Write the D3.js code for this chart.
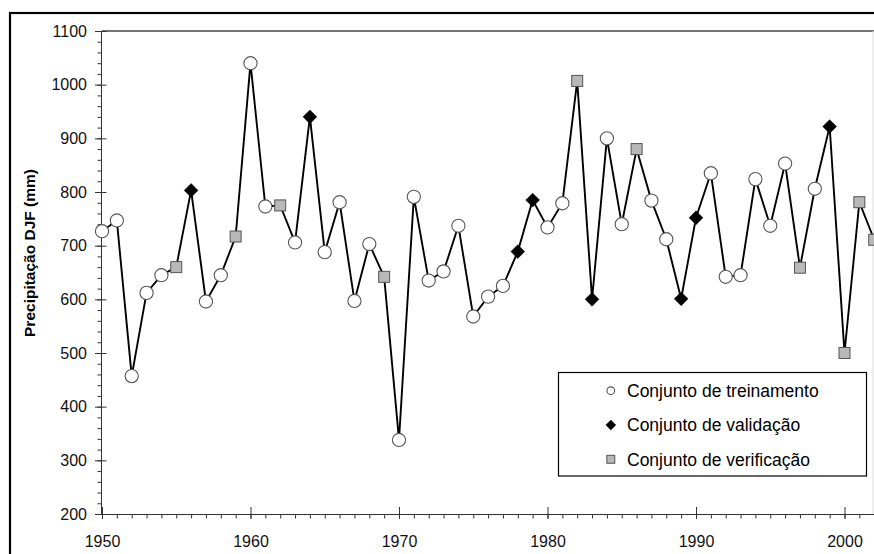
<!DOCTYPE html>
<html>
<head>
<meta charset="utf-8">
<script src="https://cdn.jsdelivr.net/npm/d3@7"></script>
<style>
  html, body { margin: 0; padding: 0; background: #fff; }
  svg { display: block; font-family: "Liberation Sans", Arial, sans-serif; }
</style>
</head>
<body>
<svg id="chart" width="874" height="554"></svg>
<script>
// ---- data ----
const years = d3.range(1950, 2003);
const precip = [
  727, 747, 457, 612, 645, 660, 803, 596, 645, 717,
  1040, 773, 775, 706, 940, 688, 781, 597, 703, 642,
  338, 791, 635, 652, 737, 568, 605, 625, 689, 785,
  734, 779, 1007, 600, 900, 740, 880, 784, 712, 601,
  752, 835, 642, 645, 824, 737, 853, 659, 806, 922,
  500, 781, 711
];
// T = treinamento, V = validação, C = verificação
const sets = [
  "T","T","T","T","T","C","V","T","T","C",
  "T","T","C","T","V","T","T","T","T","C",
  "T","T","T","T","T","T","T","T","V","V",
  "T","T","C","V","T","T","C","T","T","V",
  "V","T","T","T","T","T","T","C","T","V",
  "C","C","C"
];
const legendLabels = ["Conjunto de treinamento", "Conjunto de validação", "Conjunto de verificação"];
const legendKeys = ["T", "V", "C"];
const yTicksMajor = d3.range(200, 1101, 100);
const yTicksMinor = d3.range(200, 1101, 20);
const xTicksMajor = d3.range(1950, 2001, 10);
const xTicksMinor = d3.range(1950, 2003, 1);
const yLabel = "Precipitação DJF (mm)";

const data = years.map((yr, i) => ({ year: yr, value: precip[i], set: sets[i] }));

// ---- layout ----
const svg = d3.select("#chart");
const pLeft = 102, pTop = 31, pBottom = 514, pRight = 873;
const x = d3.scaleLinear().domain([1950, 2002]).range([pLeft, pLeft + 52 * 14.85]);
const y = d3.scaleLinear().domain([200, 1100]).range([pBottom, pTop]);

// outer frame
svg.append("rect").attr("x", 10).attr("y", 13).attr("width", 900).attr("height", 600)
  .attr("fill", "none").attr("stroke", "#000").attr("stroke-width", 2.2);

// plot area top / right border
svg.append("line").attr("x1", pLeft).attr("x2", 874).attr("y1", pTop).attr("y2", pTop)
  .attr("stroke", "#444").attr("stroke-width", 1.3);
svg.append("line").attr("x1", pRight).attr("x2", pRight).attr("y1", pTop).attr("y2", pBottom)
  .attr("stroke", "#ddd").attr("stroke-width", 1);

const axisColor = "#333";
function styleAxis(g) {
  g.selectAll("path, line").attr("stroke", axisColor);
  g.selectAll("text").attr("fill", "#111").attr("font-size", "16px")
    .attr("font-family", "\"Liberation Sans\", Arial, sans-serif");
}

// x axis minor ticks
svg.append("g").attr("transform", `translate(0,${pBottom})`)
  .call(d3.axisBottom(x).tickValues(xTicksMinor).tickSize(4.5).tickFormat(""))
  .call(g => g.select(".domain").remove()).call(styleAxis);
// x axis major ticks inward part
svg.append("g").attr("transform", `translate(0,${pBottom})`)
  .call(d3.axisBottom(x).tickValues(xTicksMajor).tickSize(-7).tickFormat(""))
  .call(g => g.select(".domain").remove()).call(styleAxis);
// x axis major + labels
svg.append("g").attr("transform", `translate(0,${pBottom})`)
  .call(d3.axisBottom(x).tickValues(xTicksMajor).tickSize(5).tickPadding(16.5).tickFormat(d3.format("d")))
  .call(g => g.select(".domain").attr("d", `M${pLeft},0.5H874`))
  .call(styleAxis);

// y axis minor ticks
svg.append("g").attr("transform", `translate(${pLeft},0)`)
  .call(d3.axisLeft(y).tickValues(yTicksMinor).tickSize(4.5).tickFormat(""))
  .call(g => g.select(".domain").remove()).call(styleAxis);
// y major inward
svg.append("g").attr("transform", `translate(${pLeft},0)`)
  .call(d3.axisLeft(y).tickValues(yTicksMajor).tickSize(-4.5).tickFormat(""))
  .call(g => g.select(".domain").remove()).call(styleAxis);
// y major + labels
svg.append("g").attr("transform", `translate(${pLeft},0)`)
  .call(d3.axisLeft(y).tickValues(yTicksMajor).tickSize(7).tickPadding(8).tickFormat(d3.format("d")))
  .call(g => g.select(".domain").attr("d", `M-0.5,${pTop}V${pBottom}`))
  .call(styleAxis);

// y label
svg.append("text")
  .attr("transform", `translate(35,${(169 + 337) / 2}) rotate(-90)`)
  .attr("text-anchor", "middle")
  .attr("font-weight", "bold").attr("font-size", "15.5px").attr("fill", "#000")
  .text(yLabel);

// series line
const line = d3.line().x(d => x(d.year)).y(d => y(d.value));
svg.append("path").datum(data).attr("d", line)
  .attr("fill", "none").attr("stroke", "#000").attr("stroke-width", 1.9)
  .attr("stroke-linejoin", "miter");

// markers
function drawMarker(g, key, cx, cy, scale) {
  if (key === "T") {
    g.append("circle").attr("cx", cx).attr("cy", cy).attr("r", 6.6 * scale)
      .attr("fill", "#fff").attr("stroke", "#555").attr("stroke-width", 1.1);
  } else if (key === "V") {
    const h = 6.9 * scale;
    g.append("path").attr("d", `M${cx},${cy - h}L${cx + h},${cy}L${cx},${cy + h}L${cx - h},${cy}Z`)
      .attr("fill", "#000").attr("stroke", "#000").attr("stroke-width", 0.5);
  } else {
    const s = 11 * scale;
    g.append("rect").attr("x", cx - s / 2).attr("y", cy - s / 2).attr("width", s).attr("height", s)
      .attr("fill", "#b8b8b8").attr("stroke", "#555").attr("stroke-width", 1);
  }
}
const mg = svg.append("g");
data.forEach(d => drawMarker(mg, d.set, x(d.year), y(d.value), 1));

// legend
const lg = svg.append("g");
lg.append("rect").attr("x", 558.5).attr("y", 372.5).attr("width", 308).attr("height", 103.5)
  .attr("fill", "#fff").attr("stroke", "#000").attr("stroke-width", 1.2);
legendKeys.forEach((k, i) => {
  const cy = 390.7 + i * 34.3;
  drawMarker(lg, k, 610.8, cy, k === "T" ? 0.58 : 0.72);
  lg.append("text").attr("x", 627).attr("y", cy + 6.3)
    .attr("font-size", "17.5px").attr("fill", "#000").text(legendLabels[i]);
});
</script>
</body>
</html>
